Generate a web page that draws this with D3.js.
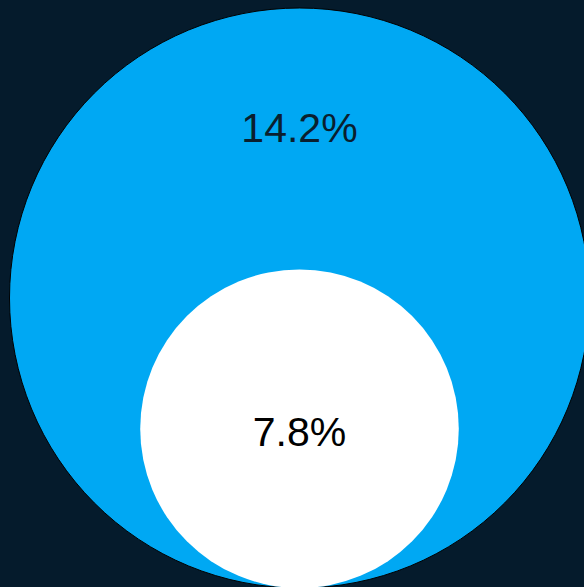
<!DOCTYPE html>
<html>
<head>
<meta charset="utf-8">
<script src="https://cdn.jsdelivr.net/npm/d3@7"></script>
<style>
  html, body { margin: 0; padding: 0; background: #051b2c; overflow: hidden; }
  svg { display: block; }
</style>
</head>
<body>
<div id="chart"></div>
<script>
// Data
const labels = ["14.2%", "7.8%"];
const values = [14.2, 7.8];
const fills = ["#00a8f3", "#ffffff"];
const textColors = ["#0a1f2f", "#000000"];

const width = 584, height = 587;

const svg = d3.select("#chart")
    .append("svg")
    .attr("width", width)
    .attr("height", height);

svg.append("rect")
    .attr("width", width)
    .attr("height", height)
    .attr("fill", "#051b2c");

// Radius proportional to value
const r = d3.scaleLinear()
    .domain([0, d3.max(values)])
    .range([0, 290]);

const cx = 299.5;
const bottom = 588;   // circles share a common bottom point

const data = values.map((v, i) => ({
    value: v,
    label: labels[i],
    fill: fills[i],
    color: textColors[i],
    r: r(v),
    cy: bottom - r(v)
}));

svg.selectAll("circle")
    .data(data)
    .enter().append("circle")
    .attr("cx", cx)
    .attr("cy", d => d.cy)
    .attr("r", d => d.r)
    .attr("fill", d => d.fill)
    .attr("stroke", (d, i) => i === 0 ? "#000" : "none")
    .attr("stroke-width", 1);

// Label for the outer circle sits in the band above the inner circle
const outer = data[0], inner = data[1];
const outerTop = outer.cy - outer.r;
const innerTop = inner.cy - inner.r;

svg.append("text")
    .attr("x", cx)
    .attr("y", outerTop + (innerTop - outerTop) * 0.46)
    .attr("text-anchor", "middle")
    .attr("dominant-baseline", "central")
    .attr("font-family", "Liberation Sans, Arial, sans-serif")
    .attr("font-size", 41)
    .attr("fill", outer.color)
    .text(outer.label);

svg.append("text")
    .attr("x", cx)
    .attr("y", inner.cy + 3)
    .attr("text-anchor", "middle")
    .attr("dominant-baseline", "central")
    .attr("font-family", "Liberation Sans, Arial, sans-serif")
    .attr("font-size", 41)
    .attr("fill", inner.color)
    .text(inner.label);
</script>
</body>
</html>
